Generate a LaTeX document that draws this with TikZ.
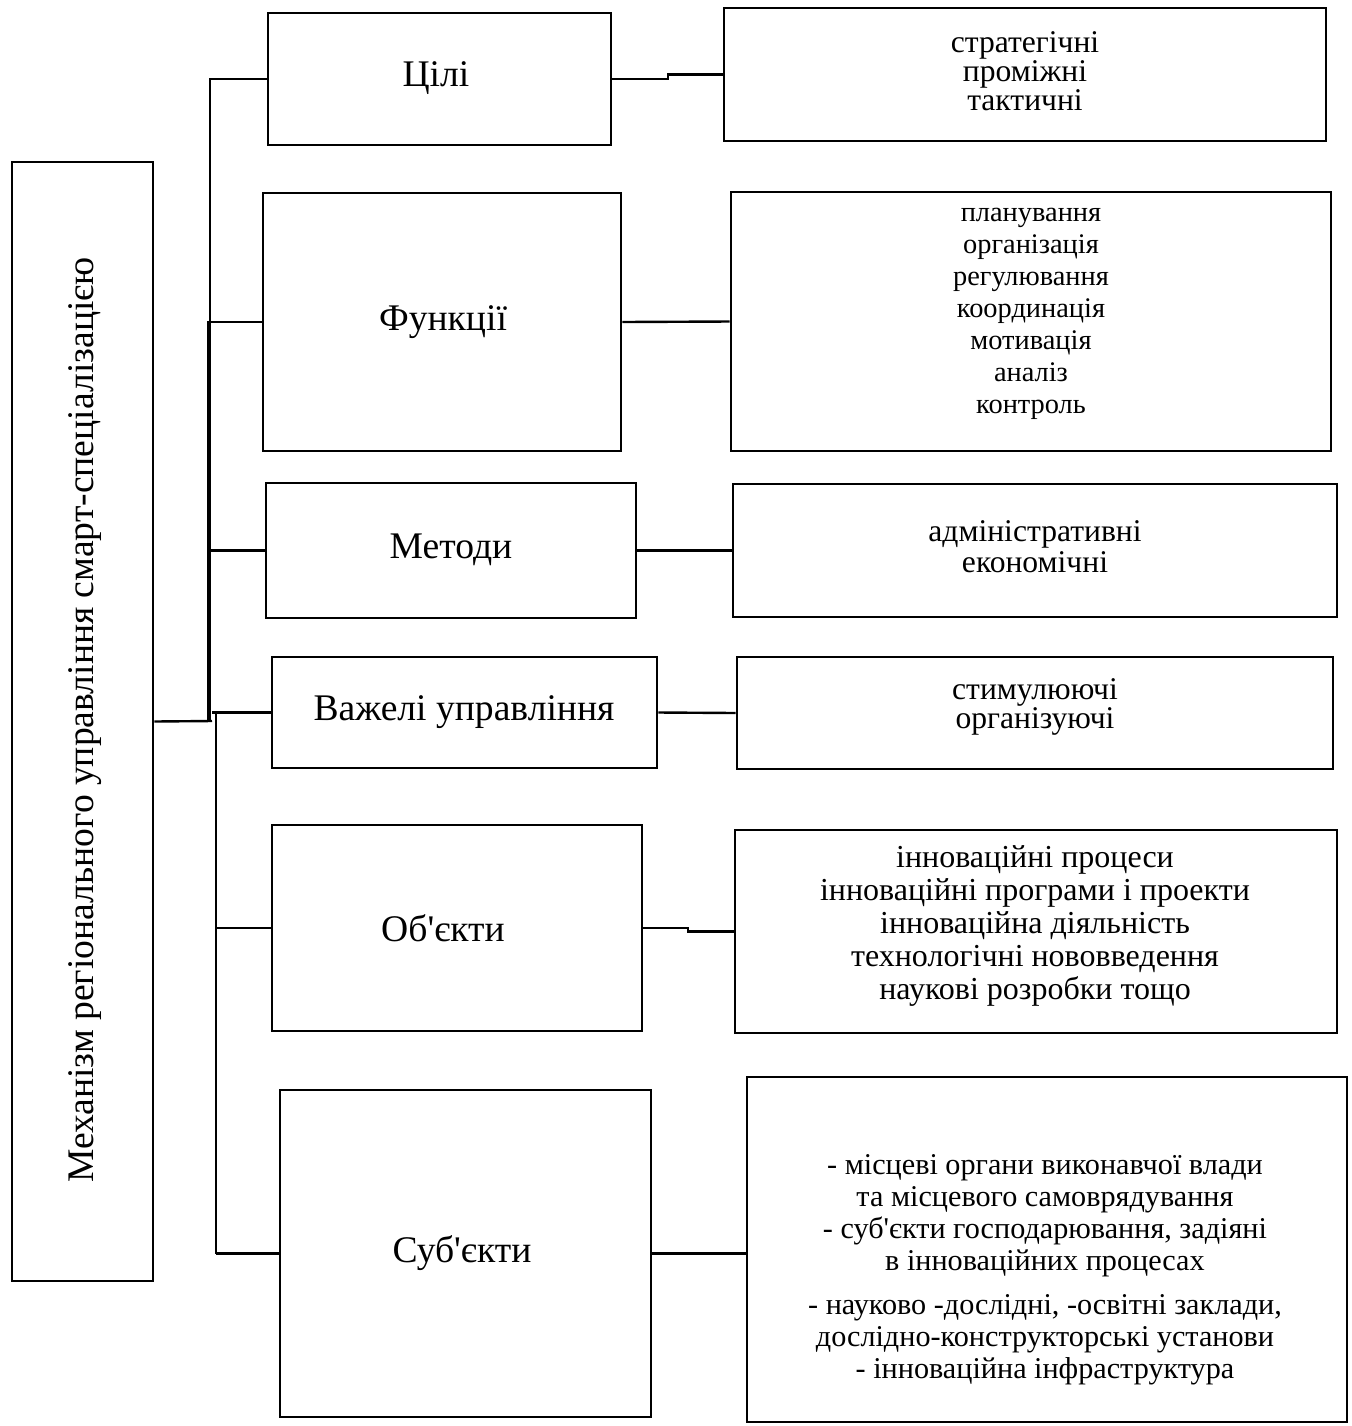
\documentclass[tikz,border=0pt]{standalone}
\usepackage{fontspec}
\setmainfont{Liberation Serif}[Ligatures=TeXOff]
\usetikzlibrary{fit}
\begin{document}
\begin{tikzpicture}[x=0.5pt,y=-0.5pt,
  box/.style={draw,line width=1.4pt,inner sep=0pt,fit={#1}},
  midtext/.style={font=\fontsize{18.8}{21}\selectfont,inner sep=0pt},
  rtext/.style 2 args={font=\fontsize{#1}{#2}\selectfont,align=center,inner sep=0pt},
  conn/.style={line width=1.2pt}]
\useasboundingbox[fill=white] (0,0) rectangle (1351,1426);
% main box
\node[box={(12,162) (153,1281)}] (main) {};
\node[midtext,rotate=90] (maint) at (85,720) {Механізм регіонального управління смарт-спеціалізацією};
% middle boxes
\node[box={(268,13) (611,145)}] (m1) {};
\node[box={(263,193) (621,451)}] (m2) {};
\node[box={(266,483) (636,618)}] (m3) {};
\node[box={(272,657) (657,768)}] (m4) {};
\node[box={(272,825) (642,1031)}] (m5) {};
\node[box={(280,1090) (651,1417)}] (m6) {};
\node[midtext] (m1t) at (436,78) {Цілі};
\node[midtext] (m2t) at (443,322) {Функції};
\node[midtext] (m3t) at (451,550) {Методи};
\node[midtext] (m4t) at (464,712) {Важелі управління};
\node[midtext] (m5t) at (443,928) {Об'єкти};
\node[midtext] (m6t) at (462,1253) {Суб'єкти};
% right boxes
\node[box={(724,8) (1326,141)}] (r1) {};
\node[box={(731,192) (1331,451)}] (r2) {};
\node[box={(733,484) (1337,617)}] (r3) {};
\node[box={(737,657) (1333,769)}] (r4) {};
\node[box={(735,830) (1337,1033)}] (r5) {};
\node[box={(747,1077) (1347,1422)}] (r6) {};
\node[rtext={15.8}{14.5}] (r1t) at (1025,71) {стратегічні\\проміжні\\тактичні};
\node[rtext={14.2}{16}] (r2t) at (1031,314) {планування\\організація\\регулювання\\координація\\мотивація\\аналіз\\контроль};
\node[rtext={15.8}{15.5}] (r3t) at (1035,547) {адміністративні\\економічні};
\node[rtext={15.8}{14.5}] (r4t) at (1035,707) {стимулюючі\\організуючі};
\node[rtext={16}{16.5}] (r5t) at (1035,926) {інноваційні процеси\\інноваційні програми і проекти\\інноваційна діяльність\\технологічні нововведення\\наукові розробки тощо};
\node[rtext={15.1}{16}] (r6t) at (1045,1270) {- місцеві органи виконавчої влади\\та місцевого самоврядування\\- суб'єкти господарювання, задіяні\\в інноваційних процесах\\[6pt]- науково -дослідні, -освітні заклади,\\дослідно-конструкторські установи\\- інноваційна інфраструктура};
% bus coordinates
\coordinate (bt) at (210,79);
\coordinate (bj) at (212,721);
\coordinate (bl) at (216,712);
\coordinate (bb) at (216,1254);
\draw[conn] (main.east) -- (bj);
\draw[conn] (m1.west) -- (bt) -- (bt |- bj);
\draw[conn] (bl) -- (bb);
\draw[conn] (m2.west) -- (m2.west -| 208,0) -- (208,721);
\draw[conn] (m3.west) -- (m3.west -| bt);
\draw[conn] (m4.west) -- (m4.west -| bj);
\draw[conn] (m5.west) -- (m5.west -| bl);
\draw[conn] (m6.west) -- (m6.west -| bl);
% right connectors
\draw[conn] (m1.east) -- (668,79) -- (668,74.5) -- (r1.west);
\draw[conn] (m2.east) -- (r2.west);
\draw[conn] (m3.east) -- (r3.west);
\draw[conn] (m4.east) -- (r4.west);
\draw[conn] (m5.east) -- (688,928) -- (688,931.5) -- (r5.west);
\draw[conn] (m6.east) -- (m6.east -| r6.west);
\end{tikzpicture}
\end{document}
